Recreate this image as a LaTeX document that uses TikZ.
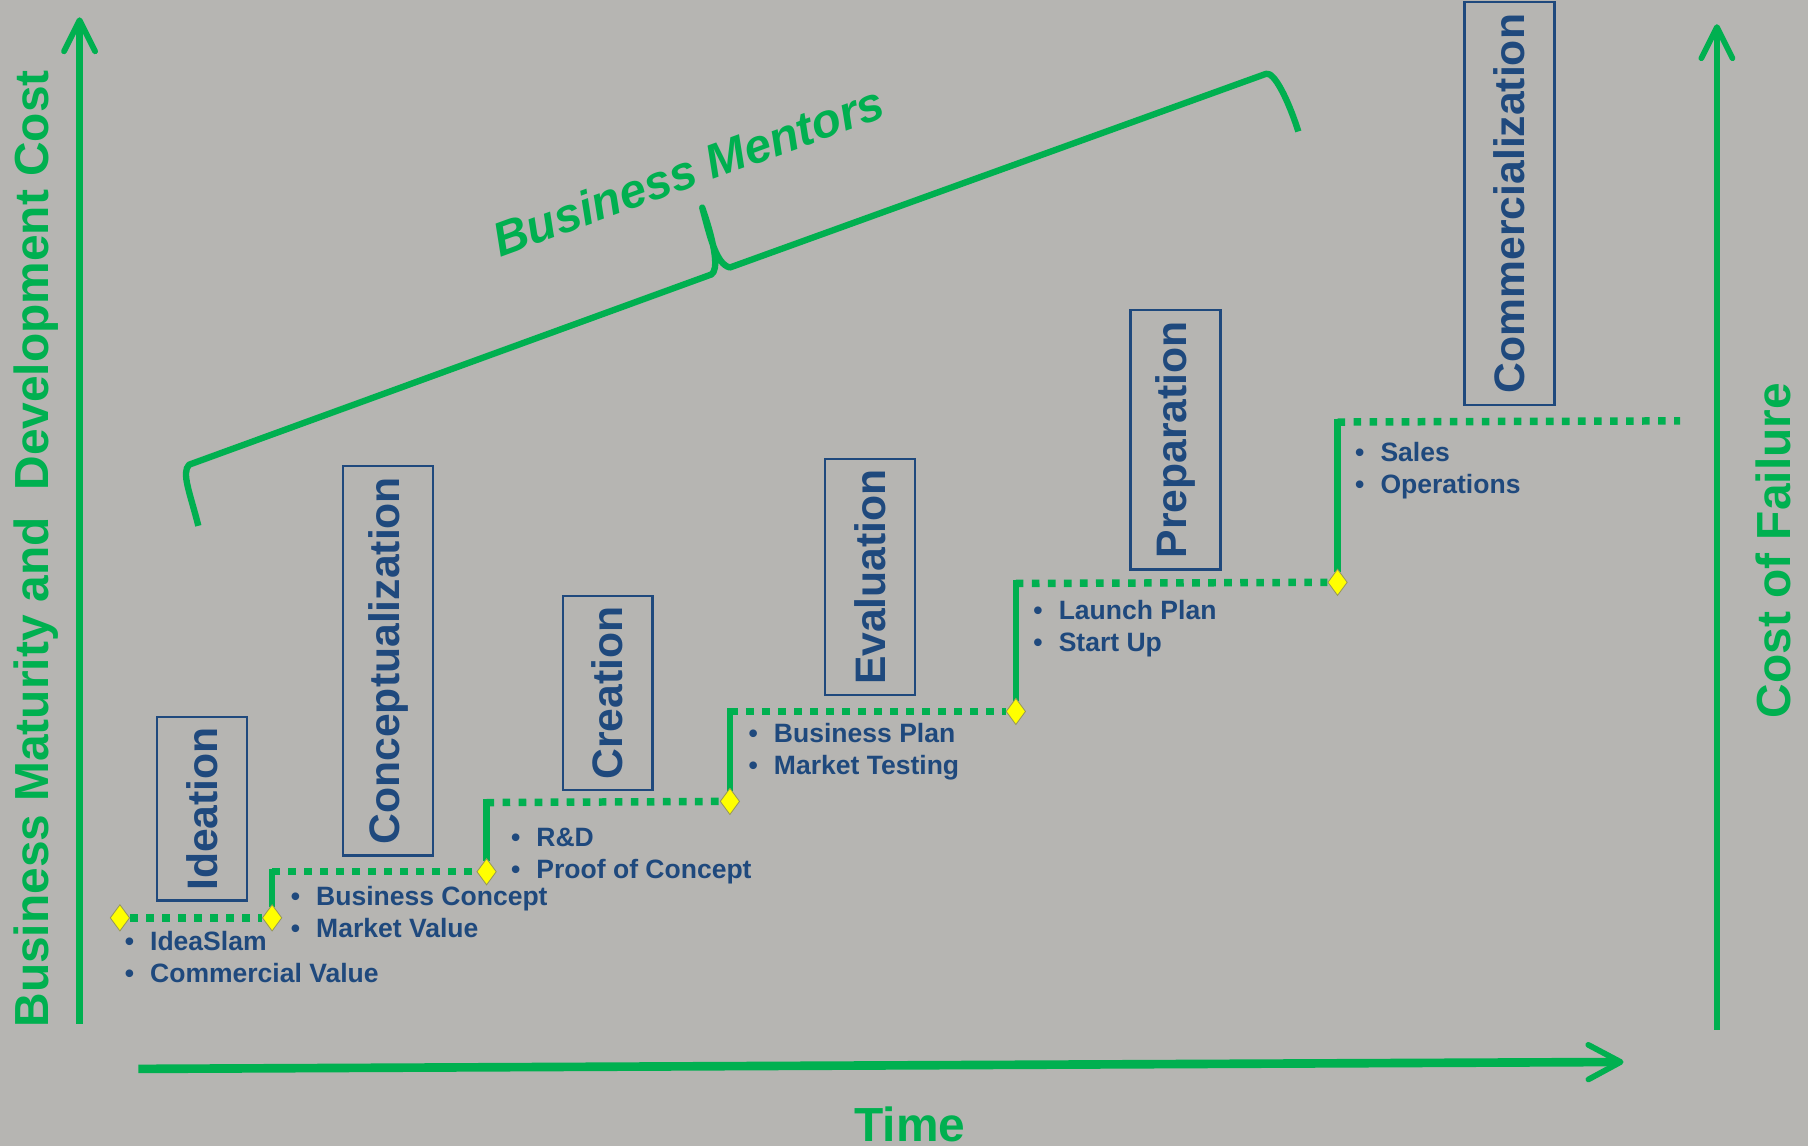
\documentclass[tikz,border=0pt]{standalone}
\usepackage{fontspec}
\setmainfont{Liberation Sans}
\usetikzlibrary{arrows.meta,shapes.geometric}
\definecolor{bg}{RGB}{182,181,178}
\definecolor{grn}{RGB}{0,176,80}
\definecolor{tblue}{RGB}{31,73,125}
\definecolor{dyel}{RGB}{255,255,0}
\definecolor{dedge}{RGB}{150,150,90}
\pgfdeclarelayer{bgfill}
\pgfdeclarelayer{lines}
\pgfsetlayers{bgfill,lines,main}
\begin{document}
\begin{tikzpicture}[x=1pt,y=-1pt,
  stage/.style={draw=tblue, line width=2pt, rotate=90, text=tblue, font=\bfseries\fontsize{37}{40}\selectfont, inner sep=0pt, minimum height=78pt},
  item/.style={anchor=base west, inner sep=0pt, text=tblue, font=\bfseries\fontsize{23}{27}\selectfont},
  gate/.style={diamond, fill=dyel, draw=dedge, line width=0.7pt, minimum width=17pt, minimum height=23pt, inner sep=0pt},
  dotline/.style={grn, line width=6.5pt, dash pattern=on 6.6pt off 7.3pt},
  riser/.style={grn, line width=5.5pt, line cap=rect},
  axis/.style={grn, line width=5.5pt, -{Straight Barb[length=27pt,width=27pt,line width'=5pt,round]}},
  biglabel/.style={text=grn, font=\bfseries\fontsize{41.5}{45}\selectfont, inner sep=0pt},
]
\begin{pgfonlayer}{bgfill}
\path[use as bounding box, fill=bg] (0,0) rectangle (1568,994);
\end{pgfonlayer}

% stage boxes
\node[stage, minimum width=159pt] (ideation) at (175,701.5) {Ideation};
\node[stage, minimum width=338pt] (concept) at (336.5,573) {Conceptualization};
\node[stage, minimum width=168pt] (creation) at (527,601) {Creation};
\node[stage, minimum width=205pt] (evaluation) at (754.5,500.5) {Evaluation};
\node[stage, minimum width=225pt] (preparation) at (1019.5,381.5) {Preparation};
\node[stage, minimum width=349pt] (commerc) at (1309,176.5) {Commercialization};

% gates
\node[gate] (d1) at (104,796) {};
\node[gate] (d2) at (236,796) {};
\node[gate] (d3) at (422,756) {};
\node[gate] (d4) at (633,695) {};
\node[gate] (d5) at (881,617) {};
\node[gate] (d6) at (1160,505) {};
\coordinate (c2) at (236,756);
\coordinate (c3) at (422,696);
\coordinate (c4) at (633,617);
\coordinate (c5) at (881,506);
\coordinate (c6) at (1160,366);
\coordinate (e6) at (1457,365);

\begin{pgfonlayer}{lines}
\draw[dotline] (d1) -- (d2);
\draw[riser] (d2) -- (c2);
\draw[dotline] (c2) -- (d3);
\draw[riser] (d3) -- (c3);
\draw[dotline] (c3) -- (d4);
\draw[riser] (d4) -- (c4);
\draw[dotline] (c4) -- (d5);
\draw[riser] (d5) -- (c5);
\draw[dotline] (c5) -- (d6);
\draw[riser] (d6) -- (c6);
\draw[dotline] (c6) -- (e6);
\end{pgfonlayer}

% bullet lists
\node[item] (i1a) at (108,824) {\textbullet\hspace{14pt}IdeaSlam};
\node[item] (i1b) at (108,852) {\textbullet\hspace{14pt}Commercial Value};
\node[item] (i2a) at (252,785) {\textbullet\hspace{14pt}Business Concept};
\node[item] (i2b) at (252,813) {\textbullet\hspace{14pt}Market Value};
\node[item] (i3a) at (443,734) {\textbullet\hspace{14pt}R\&D};
\node[item] (i3b) at (443,762) {\textbullet\hspace{14pt}Proof of Concept};
\node[item] (i4a) at (649,644) {\textbullet\hspace{14pt}Business Plan};
\node[item] (i4b) at (649,672) {\textbullet\hspace{14pt}Market Testing};
\node[item] (i5a) at (896,537) {\textbullet\hspace{14pt}Launch Plan};
\node[item] (i5b) at (896,565) {\textbullet\hspace{14pt}Start Up};
\node[item] (i6a) at (1175,400) {\textbullet\hspace{14pt}Sales};
\node[item] (i6b) at (1175,428) {\textbullet\hspace{14pt}Operations};

% axes
\coordinate (ly0) at (69,888);
\coordinate (ly1) at (69,15);
\coordinate (ry0) at (1489,893);
\coordinate (ry1) at (1489,21);
\coordinate (tx0) at (120,927);
\coordinate (tx1) at (1408,921);
\draw[axis] (ly0) -- (ly1);
\draw[axis] (ry0) -- (ry1);
\draw[axis, line width=7.5pt, -{Straight Barb[length=28pt,width=30pt,line width'=5pt,round]}] (tx0) -- (tx1);

\node[biglabel, anchor=base] (time) at (789,990) {Time};
\node[biglabel, anchor=base, rotate=90] (ylab) at (42,476) {Business Maturity and\ \ Development Cost};
\node[biglabel, anchor=base, rotate=90] (rlab) at (1553,477.5) {Cost of Failure};

% bracket
\draw[grn, line width=5.5pt, line join=round]
  (172,456) .. controls (165,428) and (157,410) .. (164,403)
  -- (617,238) .. controls (623,234) and (621,215) .. (609,180)
  .. controls (616,206) and (621,229) .. (633,232)
  -- (1098,64) .. controls (1105,62) and (1117,86) .. (1126,114);
\node[text=grn, font=\bfseries\itshape\fontsize{41.5}{44}\selectfont, inner sep=0pt, anchor=base, rotate=20] (mentors) at (602,162) {Business Mentors};
\end{tikzpicture}
\end{document}
